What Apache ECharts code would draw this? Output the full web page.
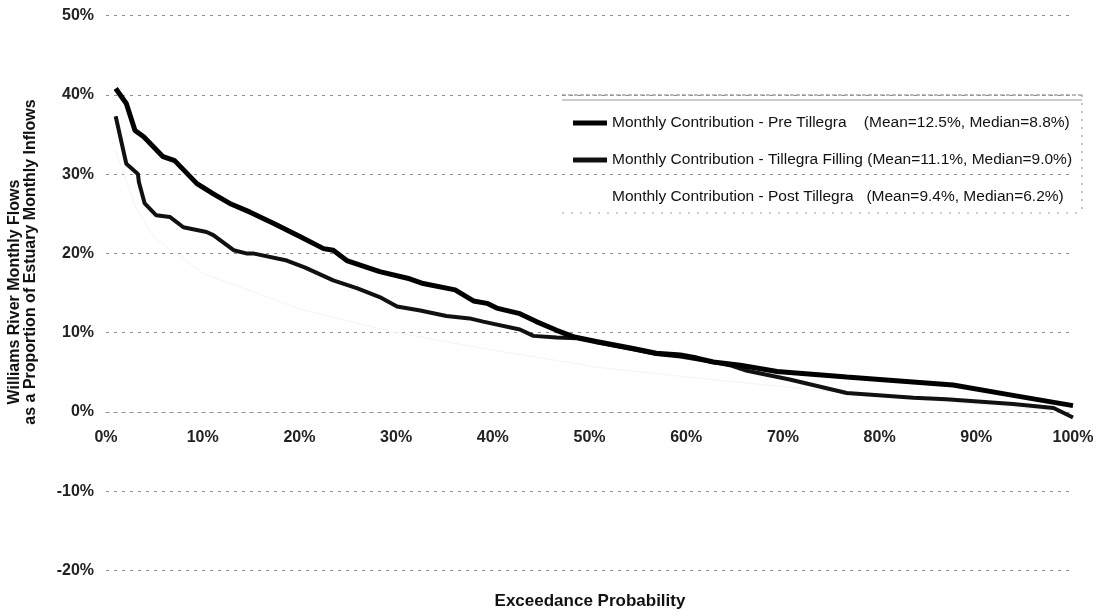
<!DOCTYPE html>
<html>
<head>
<meta charset="utf-8">
<title>Williams River Monthly Contribution</title>
<script src="https://cdn.jsdelivr.net/npm/echarts@6/dist/echarts.min.js"></script>
<style>
    html, body { margin: 0; padding: 0; background: #fff; }
    #chart { width: 1098px; height: 616px; }
</style>
</head>
<body>
<div id="chart"></div>
<script>
    // exceedance probability (%) and contribution (%)
    var preX = [1.0, 2.1, 3.0, 3.9, 5.9, 7.1, 9.4, 11.1, 12.8, 14.9, 17.3, 20.1, 22.5, 23.5, 24.9, 28.3, 31.4, 32.8, 36.1, 38.0, 39.4, 40.4, 42.8, 44.5, 46.6, 48.3, 50.7, 54.5, 56.9, 59.4, 61.1, 62.8, 65.6, 69.4, 76.6, 80.0, 87.6, 93.8, 100];
    var preY = [40.8, 38.9, 35.5, 34.7, 32.2, 31.7, 28.8, 27.5, 26.3, 25.2, 23.8, 22.1, 20.6, 20.4, 19.1, 17.7, 16.8, 16.2, 15.4, 14.0, 13.7, 13.1, 12.4, 11.4, 10.3, 9.5, 8.9, 8.0, 7.4, 7.2, 6.8, 6.3, 5.9, 5.1, 4.4, 4.1, 3.4, 2.1, 0.8];

    var fillX = [1.0, 2.1, 3.3, 3.4, 4.0, 5.2, 6.6, 8.0, 10.4, 11.1, 13.2, 14.5, 15.2, 18.7, 20.6, 23.5, 26.0, 28.3, 30.1, 32.5, 35.2, 37.6, 39.0, 42.8, 44.2, 46.6, 48.7, 50.7, 54.5, 56.9, 59.4, 62.8, 64.5, 66.3, 70.7, 76.6, 83.5, 86.9, 93.8, 98.0, 100];
    var fillY = [37.3, 31.3, 30.0, 29.0, 26.3, 24.8, 24.6, 23.3, 22.7, 22.3, 20.4, 20.0, 20.0, 19.1, 18.2, 16.6, 15.6, 14.5, 13.3, 12.8, 12.1, 11.8, 11.4, 10.4, 9.6, 9.4, 9.3, 8.8, 7.9, 7.3, 7.0, 6.3, 5.9, 5.2, 4.1, 2.4, 1.8, 1.6, 1.0, 0.5, -0.7];

    // post tillegra curve is almost washed out in the scan, only a faint piece is readable
    var postX = [1.0, 3.0, 5.0, 10.0, 20.0, 30.0, 40.0, 48.7, 50.4, 59.4, 70.0, 80.0, 90.0, 100];
    var postY = [33.0, 26.0, 22.0, 17.5, 13.0, 10.0, 7.8, 6.1, 5.7, 4.5, 3.2, 2.0, 1.0, 0.0];

    var seriesNames = [
        'Monthly Contribution - Pre Tillegra    (Mean=12.5%, Median=8.8%)',
        'Monthly Contribution - Tillegra Filling (Mean=11.1%, Median=9.0%)',
        'Monthly Contribution - Post Tillegra   (Mean=9.4%, Median=6.2%)'
    ];

    var xTicks = { min: 0, max: 100, interval: 10 };
    var yTicks = { min: -20, max: 50, interval: 10 };

    function pairs(xs, ys) {
        var out = [];
        for (var i = 0; i < xs.length; i++) {
            out.push([xs[i], ys[i]]);
        }
        return out;
    }

    var font = 'Liberation Sans, Arial, sans-serif';
    var gridDash = { color: '#8c8c8c', width: 1, type: [3, 5] };

    var gridTop = 15.5, gridBottom = 45.4;
    // x axis sits on the 0% line: shift it up from the bottom of the plot
    var plotH = 616 - gridTop - gridBottom;
    var xAxisOffset = -plotH * (0 - yTicks.min) / (yTicks.max - yTicks.min);

    var chart = echarts.init(document.getElementById('chart'));
    var option = {
        backgroundColor: '#fff',
        animation: false,
        grid: {
            left: 106,
            right: 25,
            top: gridTop,
            bottom: gridBottom,
            outerBoundsMode: 'none'
        },
        legend: {
            orient: 'vertical',
            left: 568,
            top: 110,
            itemWidth: 34,
            itemHeight: 5,
            itemGap: 21,
            data: [
                { name: seriesNames[0], icon: 'rect' },
                { name: seriesNames[1], icon: 'rect' },
                { name: seriesNames[2], icon: 'rect' }
            ],
            textStyle: { fontFamily: font, fontSize: 15.5, color: '#111' }
        },
        xAxis: {
            type: 'value',
            position: 'bottom',
            offset: xAxisOffset,
            min: xTicks.min,
            max: xTicks.max,
            interval: xTicks.interval,
            axisLine: { show: true, onZero: false, lineStyle: gridDash },
            axisTick: { show: false },
            splitLine: { show: false },
            axisLabel: {
                formatter: '{value}%',
                margin: 18,
                fontFamily: font,
                fontSize: 16,
                fontWeight: 'bold',
                color: '#222'
            }
        },
        yAxis: {
            type: 'value',
            min: yTicks.min,
            max: yTicks.max,
            interval: yTicks.interval,
            axisLine: { show: false },
            axisTick: { show: false },
            splitLine: { show: true, lineStyle: gridDash },
            axisLabel: {
                formatter: '{value}%',
                margin: 12,
                fontFamily: font,
                fontSize: 16,
                fontWeight: 'bold',
                color: '#222'
            }
        },
        series: [
            {
                name: seriesNames[0],
                type: 'line',
                showSymbol: false,
                symbol: 'none',
                data: pairs(preX, preY),
                lineStyle: { color: '#000', width: 5 },
                itemStyle: { color: '#000' },
                z: 4
            },
            {
                name: seriesNames[1],
                type: 'line',
                showSymbol: false,
                symbol: 'none',
                data: pairs(fillX, fillY),
                lineStyle: { color: '#111', width: 4 },
                itemStyle: { color: '#111' },
                z: 3
            },
            {
                name: seriesNames[2],
                type: 'line',
                showSymbol: false,
                symbol: 'none',
                data: pairs(postX, postY),
                lineStyle: { color: '#f4f4f4', width: 1 },
                itemStyle: { color: '#fff' },
                z: 2
            }
        ],
        graphic: [
            // legend frame (double top rule, dotted right and bottom edges)
            { type: 'line', shape: { x1: 562, y1: 95, x2: 1082, y2: 95 }, style: { stroke: '#777', lineWidth: 1, lineDash: [4, 2] } },
            { type: 'line', shape: { x1: 562, y1: 100, x2: 1082, y2: 100 }, style: { stroke: '#999', lineWidth: 1 } },
            { type: 'line', shape: { x1: 1082, y1: 95, x2: 1082, y2: 213 }, style: { stroke: '#888', lineWidth: 1, lineDash: [2, 6] } },
            { type: 'line', shape: { x1: 562, y1: 213, x2: 1082, y2: 213 }, style: { stroke: '#999', lineWidth: 1, lineDash: [2, 7] } },
            // axis titles
            {
                type: 'text', x: 15, y: 292, rotation: Math.PI / 2,
                style: { text: 'Williams River Monthly Flows', font: 'bold 16px ' + font, fill: '#111', align: 'center', verticalAlign: 'middle' }
            },
            {
                type: 'text', x: 31, y: 262, rotation: Math.PI / 2,
                style: { text: 'as a Proportion of Estuary Monthly Inflows', font: 'bold 16px ' + font, fill: '#111', align: 'center', verticalAlign: 'middle' }
            },
            {
                type: 'text', x: 590, y: 601,
                style: { text: 'Exceedance Probability', font: 'bold 17px ' + font, fill: '#111', align: 'center', verticalAlign: 'middle' }
            }
        ]
    };
    chart.setOption(option);
</script>
</body>
</html>
